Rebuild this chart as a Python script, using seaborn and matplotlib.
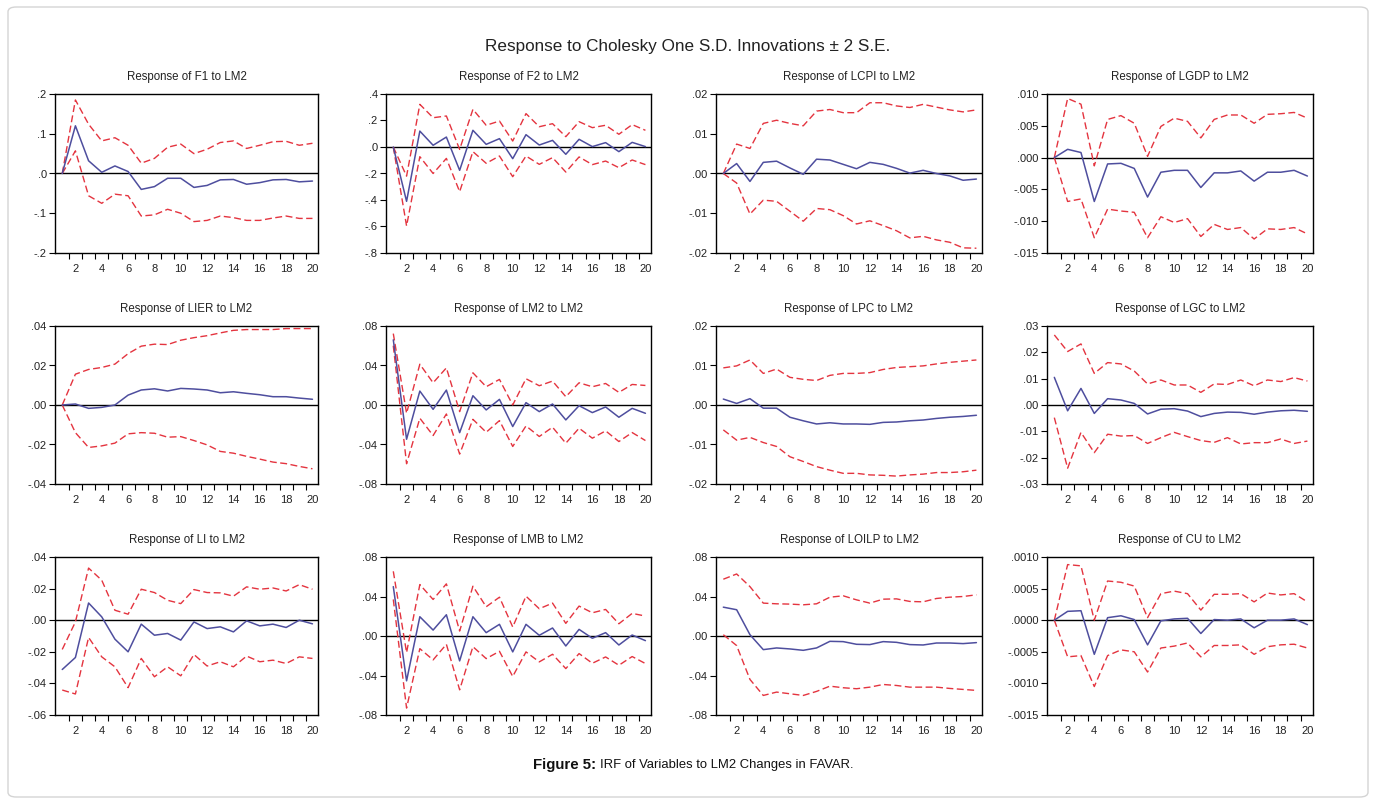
import numpy as np
import matplotlib
matplotlib.use("Agg")
import matplotlib.pyplot as plt
from matplotlib.patches import FancyBboxPatch
import seaborn as sns

sns.set_theme(style="white")
plt.rcParams["font.family"] = ["Liberation Sans", "DejaVu Sans"]

periods = list(range(1, 21))

# ---- impulse responses (point estimate, +2 S.E., -2 S.E.) ----
f1_resp = [0, 0.120, 0.032, 0.003, 0.019, 0.005, -0.040, -0.033, -0.012, -0.012,
           -0.035, -0.030, -0.016, -0.015, -0.027, -0.023, -0.016, -0.015, -0.021, -0.019]
f1_hi = [0, 0.185, 0.124, 0.082, 0.090, 0.071, 0.026, 0.038, 0.066, 0.074,
         0.050, 0.061, 0.078, 0.082, 0.063, 0.071, 0.080, 0.081, 0.071, 0.076]
f1_lo = [0, 0.057, -0.056, -0.075, -0.052, -0.056, -0.107, -0.104, -0.090, -0.100,
         -0.121, -0.118, -0.107, -0.111, -0.118, -0.118, -0.112, -0.107, -0.113, -0.113]

f2_resp = [0, -0.410, 0.120, 0.013, 0.075, -0.176, 0.126, 0.020, 0.063, -0.088,
           0.093, 0.015, 0.050, -0.055, 0.058, 0.003, 0.033, -0.035, 0.035, 0.003]
f2_hi = [0, -0.220, 0.322, 0.221, 0.234, -0.018, 0.284, 0.164, 0.196, 0.045,
         0.252, 0.153, 0.176, 0.078, 0.191, 0.146, 0.164, 0.096, 0.169, 0.126]
f2_lo = [0, -0.596, -0.073, -0.200, -0.086, -0.337, -0.035, -0.123, -0.068, -0.224,
         -0.068, -0.131, -0.080, -0.189, -0.075, -0.133, -0.106, -0.156, -0.098, -0.133]

lcpi_resp = [0, 0.0025, -0.0020, 0.0028, 0.0031, 0.0014, -0.0002, 0.0036, 0.0034, 0.0023,
             0.0012, 0.0028, 0.0023, 0.0013, 0.0001, 0.0008, 0.0000, -0.0006, -0.0017, -0.0014]
lcpi_hi = [0, 0.0074, 0.0063, 0.0126, 0.0134, 0.0126, 0.0120, 0.0157, 0.0161, 0.0153,
           0.0153, 0.0178, 0.0178, 0.0170, 0.0166, 0.0174, 0.0167, 0.0160, 0.0155, 0.0160]
lcpi_lo = [0, -0.0024, -0.0102, -0.0067, -0.0070, -0.0095, -0.0120, -0.0088, -0.0091, -0.0106,
           -0.0127, -0.0119, -0.0131, -0.0144, -0.0162, -0.0158, -0.0167, -0.0173, -0.0187, -0.0188]

lgdp_resp = [0, 0.0013, 0.0008, -0.0069, -0.0010, -0.0009, -0.0017, -0.0062, -0.0023, -0.0020,
             -0.0020, -0.0047, -0.0024, -0.0024, -0.0021, -0.0037, -0.0023, -0.0023, -0.0020, -0.0029]
lgdp_hi = [0, 0.0093, 0.0084, -0.0013, 0.0060, 0.0066, 0.0054, 0.0002, 0.0049, 0.0062,
           0.0057, 0.0031, 0.0060, 0.0067, 0.0067, 0.0054, 0.0068, 0.0069, 0.0071, 0.0062]
lgdp_lo = [0, -0.0069, -0.0065, -0.0126, -0.0081, -0.0084, -0.0086, -0.0126, -0.0093, -0.0102,
           -0.0096, -0.0124, -0.0105, -0.0113, -0.0110, -0.0128, -0.0112, -0.0113, -0.0110, -0.0120]

lier_resp = [0, 0.0005, -0.0017, -0.0012, 0.0000, 0.0050, 0.0076, 0.0082, 0.0071, 0.0084,
             0.0081, 0.0076, 0.0062, 0.0067, 0.0059, 0.0052, 0.0042, 0.0042, 0.0035, 0.0029]
lier_hi = [0, 0.0156, 0.0180, 0.0190, 0.0207, 0.0260, 0.0298, 0.0308, 0.0306, 0.0328,
           0.0341, 0.0351, 0.0365, 0.0378, 0.0382, 0.0382, 0.0382, 0.0387, 0.0387, 0.0387]
lier_lo = [0, -0.0140, -0.0215, -0.0207, -0.0193, -0.0146, -0.0140, -0.0143, -0.0163, -0.0160,
           -0.0180, -0.0202, -0.0235, -0.0244, -0.0260, -0.0274, -0.0289, -0.0297, -0.0311, -0.0323]

lm2_resp = [0.066, -0.0347, 0.0141, -0.0044, 0.0151, -0.0280, 0.0094, -0.0050, 0.0057, -0.0218,
            0.0024, -0.0067, 0.0010, -0.0151, -0.0007, -0.0077, -0.0020, -0.0124, -0.0034, -0.0084]
lm2_hi = [0.0723, -0.0084, 0.0413, 0.0225, 0.0376, -0.0067, 0.0326, 0.0185, 0.0259, 0.0000,
          0.0266, 0.0195, 0.0242, 0.0084, 0.0225, 0.0185, 0.0218, 0.0128, 0.0208, 0.0198]
lm2_lo = [0.060, -0.0595, -0.0134, -0.0309, -0.0091, -0.0497, -0.0145, -0.0276, -0.0158, -0.0420,
          -0.0212, -0.0319, -0.0225, -0.0387, -0.0235, -0.0336, -0.0262, -0.0370, -0.0279, -0.0360]

lpc_resp = [0.0015, 0.0004, 0.0016, -0.0008, -0.0008, -0.0031, -0.0040, -0.0048, -0.0045, -0.0048,
            -0.0048, -0.0049, -0.0044, -0.0043, -0.0040, -0.0038, -0.0034, -0.0031, -0.0029, -0.0026]
lpc_hi = [0.0094, 0.0099, 0.0114, 0.0080, 0.0091, 0.0070, 0.0065, 0.0062, 0.0075, 0.0080,
          0.0080, 0.0082, 0.0090, 0.0095, 0.0097, 0.0099, 0.0104, 0.0108, 0.0111, 0.0114]
lpc_lo = [-0.0063, -0.0089, -0.0082, -0.0095, -0.0105, -0.0131, -0.0143, -0.0156, -0.0165, -0.0173,
          -0.0173, -0.0177, -0.0178, -0.0180, -0.0177, -0.0175, -0.0171, -0.0171, -0.0169, -0.0165]

lgc_resp = [0.0105, -0.0022, 0.0063, -0.0032, 0.0024, 0.0019, 0.0006, -0.0034, -0.0016, -0.0014,
            -0.0023, -0.0044, -0.0032, -0.0027, -0.0028, -0.0035, -0.0027, -0.0022, -0.0020, -0.0024]
lgc_hi = [0.0266, 0.0203, 0.0232, 0.0120, 0.0161, 0.0156, 0.0129, 0.0080, 0.0095, 0.0076,
          0.0076, 0.0048, 0.0080, 0.0078, 0.0095, 0.0073, 0.0095, 0.0089, 0.0104, 0.0091]
lgc_lo = [-0.0048, -0.0240, -0.0104, -0.0181, -0.0111, -0.0118, -0.0116, -0.0146, -0.0124, -0.0104,
          -0.0120, -0.0135, -0.0142, -0.0124, -0.0148, -0.0143, -0.0143, -0.0129, -0.0146, -0.0137]

li_resp = [-0.0312, -0.0236, 0.0109, 0.0021, -0.0120, -0.0200, -0.0025, -0.0095, -0.0084, -0.0126,
           -0.0011, -0.0053, -0.0042, -0.0074, -0.0004, -0.0036, -0.0025, -0.0046, 0.0000, -0.0023]
li_hi = [-0.0185, -0.0011, 0.0330, 0.0253, 0.0063, 0.0038, 0.0196, 0.0175, 0.0126, 0.0105,
         0.0194, 0.0175, 0.0173, 0.0152, 0.0211, 0.0196, 0.0204, 0.0185, 0.0225, 0.0196]
li_lo = [-0.0442, -0.0467, -0.0109, -0.0232, -0.0295, -0.0427, -0.0242, -0.0358, -0.0295, -0.0352,
         -0.0217, -0.0290, -0.0263, -0.0295, -0.0227, -0.0263, -0.0253, -0.0274, -0.0232, -0.0242]

lmb_resp = [0.0500, -0.0454, 0.0195, 0.0060, 0.0215, -0.0252, 0.0195, 0.0034, 0.0118, -0.0161,
            0.0118, 0.0007, 0.0081, -0.0101, 0.0067, -0.0023, 0.0034, -0.0091, 0.0010, -0.0047]
lmb_hi = [0.0655, -0.0168, 0.0521, 0.0370, 0.0528, 0.0050, 0.0504, 0.0296, 0.0393, 0.0091,
          0.0403, 0.0276, 0.0333, 0.0128, 0.0303, 0.0235, 0.0269, 0.0124, 0.0229, 0.0202]
lmb_lo = [0.0370, -0.0730, -0.0128, -0.0242, -0.0084, -0.0545, -0.0108, -0.0229, -0.0155, -0.0410,
          -0.0161, -0.0262, -0.0185, -0.0330, -0.0178, -0.0276, -0.0212, -0.0296, -0.0208, -0.0279]

loilp_resp = [0.0292, 0.0266, 0.0013, -0.0138, -0.0121, -0.0131, -0.0145, -0.0121, -0.0054, -0.0057,
              -0.0084, -0.0087, -0.0057, -0.0064, -0.0087, -0.0091, -0.0071, -0.0071, -0.0077, -0.0067]
loilp_hi = [0.0575, 0.0628, 0.0500, 0.0333, 0.0326, 0.0323, 0.0316, 0.0326, 0.0393, 0.0407,
            0.0366, 0.0333, 0.0373, 0.0376, 0.0350, 0.0346, 0.0380, 0.0393, 0.0400, 0.0417]
loilp_lo = [0.0013, -0.0097, -0.0440, -0.0602, -0.0568, -0.0585, -0.0602, -0.0561, -0.0508, -0.0524,
            -0.0534, -0.0518, -0.0491, -0.0501, -0.0518, -0.0518, -0.0518, -0.0531, -0.0541, -0.0551]

cu_resp = [0, 0.00014, 0.00015, -0.00054, 0.00004, 0.00007, 0.00001, -0.00039, -0.00001, 0.00002,
           0.00003, -0.00021, 0.00001, 0.00000, 0.00002, -0.00012, 0.00000, 0.00000, 0.00002, -0.00007]
cu_hi = [0, 0.00088, 0.00086, 0.00000, 0.00062, 0.00060, 0.00054, 0.00004, 0.00042, 0.00046,
         0.00042, 0.00016, 0.00041, 0.00041, 0.00042, 0.00029, 0.00043, 0.00040, 0.00042, 0.00029]
cu_lo = [0, -0.00058, -0.00056, -0.00105, -0.00056, -0.00047, -0.00050, -0.00082, -0.00044, -0.00041,
         -0.00036, -0.00058, -0.00040, -0.00040, -0.00039, -0.00054, -0.00042, -0.00039, -0.00038, -0.00044]

variables = ["F1", "F2", "LCPI", "LGDP", "LIER", "LM2", "LPC", "LGC", "LI", "LMB", "LOILP", "CU"]
responses = [f1_resp, f2_resp, lcpi_resp, lgdp_resp, lier_resp, lm2_resp,
             lpc_resp, lgc_resp, li_resp, lmb_resp, loilp_resp, cu_resp]
upper = [f1_hi, f2_hi, lcpi_hi, lgdp_hi, lier_hi, lm2_hi, lpc_hi, lgc_hi, li_hi, lmb_hi, loilp_hi, cu_hi]
lower = [f1_lo, f2_lo, lcpi_lo, lgdp_lo, lier_lo, lm2_lo, lpc_lo, lgc_lo, li_lo, lmb_lo, loilp_lo, cu_lo]

# y-axis ticks for each panel
yticks = [
    [-0.2, -0.1, 0.0, 0.1, 0.2],
    [-0.8, -0.6, -0.4, -0.2, 0.0, 0.2, 0.4],
    [-0.02, -0.01, 0.0, 0.01, 0.02],
    [-0.015, -0.010, -0.005, 0.0, 0.005, 0.010],
    [-0.04, -0.02, 0.0, 0.02, 0.04],
    [-0.08, -0.04, 0.0, 0.04, 0.08],
    [-0.02, -0.01, 0.0, 0.01, 0.02],
    [-0.03, -0.02, -0.01, 0.0, 0.01, 0.02, 0.03],
    [-0.06, -0.04, -0.02, 0.0, 0.02, 0.04],
    [-0.08, -0.04, 0.0, 0.04, 0.08],
    [-0.08, -0.04, 0.0, 0.04, 0.08],
    [-0.0015, -0.0010, -0.0005, 0.0, 0.0005, 0.0010],
]
ydecimals = [1, 1, 2, 3, 2, 2, 2, 2, 2, 2, 2, 4]
xtick_labels = [str(p) for p in range(2, 21, 2)]

W, H = 1376, 805
fig = plt.figure(figsize=(W / 100, H / 100), dpi=100)
fig.patch.set_facecolor("white")

# outer frame of the figure box
frame = FancyBboxPatch((8 / W, 8 / H), 1360 / W, 790 / H,
                       boxstyle="round,pad=0,rounding_size=0.006",
                       transform=fig.transFigure, facecolor="none",
                       edgecolor="#d4d4d4", linewidth=1.0)
fig.patches.append(frame)

col_px = [(55, 318), (386, 651), (716, 982), (1047, 1313)]
row_px = [(94, 253), (326, 484), (557, 715)]

BLUE = "#4e4e9e"
RED = "#e4343f"


def fmt_tick(v, d):
    s = f"{v:.{d}f}"
    if s.startswith("-0."):
        s = "-" + s[2:]
    elif s.startswith("0."):
        s = s[1:]
    return s


for i, var in enumerate(variables):
    r, c = divmod(i, 4)
    x0, x1 = col_px[c]
    top, bot = row_px[r]
    ax = fig.add_axes([x0 / W, 1 - bot / H, (x1 - x0) / W, (bot - top) / H])

    ax.axhline(0, color="black", linewidth=1.0, zorder=1)
    sns.lineplot(x=periods, y=upper[i], ax=ax, color=RED, linewidth=1.0,
                 linestyle=(0, (5, 2.5)), zorder=2)
    sns.lineplot(x=periods, y=lower[i], ax=ax, color=RED, linewidth=1.0,
                 linestyle=(0, (5, 2.5)), zorder=2)
    sns.lineplot(x=periods, y=responses[i], ax=ax, color=BLUE, linewidth=1.1, zorder=3)

    yt = yticks[i]
    ax.set_ylim(yt[0], yt[-1])
    ax.set_yticks(yt)
    ax.set_yticklabels([fmt_tick(v, ydecimals[i]) for v in yt])
    ax.set_xlim(0.45, 20.42)
    ax.set_xticks(range(2, 21, 2))
    ax.set_xticklabels(xtick_labels)
    ax.set_xticks(np.arange(1.5, 20.0, 1.0), minor=True)
    ax.tick_params(axis="x", which="major", length=0, pad=8, labelsize=8, colors="#222222")
    ax.tick_params(axis="x", which="minor", length=4, width=0.8, direction="out",
                   bottom=True, color="black")
    ax.tick_params(axis="y", which="major", length=4, width=0.8, direction="out",
                   left=True, pad=2, labelsize=8, colors="#222222")
    ax.tick_params(axis="y", color="black")
    ax.set_xlabel("")
    ax.set_ylabel("")
    for sp in ax.spines.values():
        sp.set_color("black")
        sp.set_linewidth(1.0)
    ax.grid(False)
    ax.set_title(f"Response of {var} to LM2", fontsize=8.3, pad=10, color="#222222")

fig.text(688 / W, 1 - 47 / H, "Response to Cholesky One S.D. Innovations \u00b1 2 S.E.",
         ha="center", va="center", fontsize=12.3, color="#222222")

fig.text(596 / W, 1 - 765 / H, "Figure 5:", ha="right", va="center",
         fontsize=10.8, fontweight="bold", color="#111111")
fig.text(600 / W, 1 - 765 / H, "IRF of Variables to LM2 Changes in FAVAR.", ha="left",
         va="center", fontsize=9.4, color="#111111")

fig.savefig("out.png", dpi=100, facecolor="white")
